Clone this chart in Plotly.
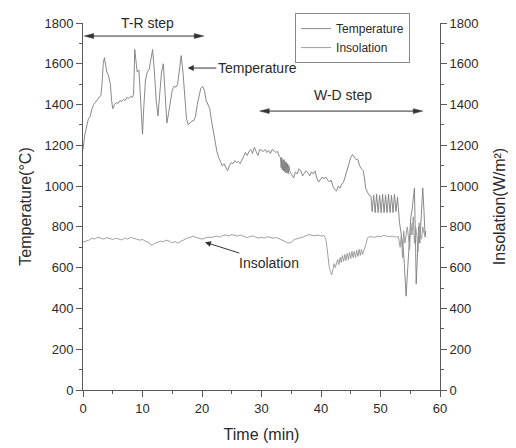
import plotly.graph_objects as go

# ---- data ----
time_temp = [0.0, 0.3, 0.6, 0.9, 1.2, 1.5, 1.8, 2.1, 2.4, 2.7, 3.0, 3.2, 3.4, 3.6, 3.8, 4.0, 4.3, 4.6, 4.8, 5.0,
             5.3, 5.6, 5.9, 6.2, 6.5, 6.8, 7.1, 7.4, 7.7, 8.0, 8.3, 8.5, 8.7, 8.9, 9.1, 9.4, 9.6, 9.8, 10.0, 10.2,
             10.5, 10.8, 11.1, 11.4, 11.7, 12.0, 12.3, 12.6, 12.9, 13.2, 13.5, 13.8, 14.1, 14.4, 14.7, 15.0, 15.3, 15.6, 15.9, 16.2,
             16.5, 16.8, 17.1, 17.4, 17.7, 18.0, 18.3, 18.6, 18.9, 19.2, 19.5, 19.8, 20.1, 20.4, 20.7, 21.0, 21.3, 21.6, 21.9, 22.2,
             22.5, 22.8, 23.1, 23.4, 23.7, 24.0, 24.3, 24.6, 24.9, 25.2, 25.5, 25.8, 26.1, 26.4, 26.7, 27.0, 27.3, 27.6, 27.9, 28.2,
             28.5, 28.8, 29.1, 29.4, 29.7, 30.0, 30.3, 30.6, 30.9, 31.2, 31.5, 31.8, 32.1, 32.4, 32.7, 33.0,
             33.2, 33.3, 33.4, 33.5, 33.6, 33.7, 33.8, 33.9, 34.0, 34.1, 34.2, 34.3, 34.4, 34.5, 34.6, 34.8,
             35.1, 35.4, 35.7, 36.0, 36.3, 36.6, 36.9, 37.2, 37.5, 37.8, 38.1, 38.4, 38.7, 39.0, 39.3, 39.6, 39.9, 40.2,
             40.5, 40.8, 41.1, 41.4, 41.7, 42.0, 42.3, 42.6, 42.9, 43.2, 43.5, 43.8, 44.1, 44.4, 44.7, 45.0, 45.3, 45.6,
             45.9, 46.2, 46.5, 46.8, 47.1, 47.3, 47.5, 47.8, 48.1, 48.4,
             48.6, 48.85, 49.1, 49.35, 49.6, 49.85, 50.1, 50.35, 50.6, 50.85, 51.1, 51.35, 51.6, 51.85, 52.1, 52.35, 52.6, 52.85, 53.0,
             53.2, 53.5, 53.8, 54.0, 54.2, 54.3, 54.5, 54.7, 54.9, 55.1, 55.3, 55.5, 55.7, 55.9, 56.0, 56.2, 56.4, 56.6, 56.8,
             57.0, 57.1, 57.3, 57.5, 57.6]
temperature = [1180, 1250, 1290, 1330, 1340, 1380, 1400, 1410, 1420, 1435, 1445, 1500, 1600, 1630, 1590, 1560, 1540, 1500, 1420, 1380,
               1400, 1410, 1405, 1420, 1415, 1425, 1420, 1435, 1430, 1440, 1435, 1450, 1670, 1600, 1560, 1570, 1450, 1330, 1255, 1380,
               1520, 1560, 1570, 1620, 1670, 1560, 1420, 1345, 1450, 1560, 1600, 1450, 1310, 1360, 1420, 1470, 1490, 1485, 1500, 1560,
               1640, 1560, 1420, 1330, 1300, 1310, 1320, 1320, 1340, 1400, 1450, 1480, 1490, 1470, 1420, 1400, 1380, 1320, 1270, 1200,
               1170, 1140, 1120, 1100, 1110, 1090, 1075, 1100, 1115, 1110, 1125, 1115, 1120, 1110, 1125, 1145, 1165, 1150, 1170, 1180,
               1160, 1190, 1170, 1150, 1180, 1175, 1170, 1180, 1165, 1175, 1160, 1180, 1170, 1165, 1170, 1145,
               1140, 1090, 1140, 1080, 1130, 1075, 1130, 1070, 1120, 1065, 1115, 1065, 1110, 1060, 1100, 1070,
               1055, 1040, 1070, 1060, 1085, 1075, 1050, 1060, 1075, 1065, 1050, 1070, 1060, 1075, 1040, 1020, 1030, 1045,
               1035, 1045, 1030, 1020, 1030, 1000, 985, 975, 1000, 990, 1010, 1020, 1050, 1080, 1110, 1140, 1155, 1145,
               1130, 1130, 1100, 1085, 1075, 1040, 990, 970, 955, 950,
               875, 955, 870, 960, 870, 955, 870, 960, 870, 955, 870, 960, 870, 955, 870, 960, 875, 945, 870,
               820, 760, 700, 620, 520, 460, 560, 660, 800, 850, 880, 930, 990, 700, 520, 650, 800, 720, 850,
               950, 990, 880, 750, 780]

time_ins = [0.0, 0.5, 1.0, 1.5, 2.0, 2.5, 3.0, 3.5, 4.0, 4.5, 5.0, 5.5, 6.0, 6.5, 7.0, 7.5, 8.0, 8.5, 9.0, 9.5,
            10.0, 10.5, 11.0, 11.3, 11.6, 12.0, 12.5, 13.0, 13.5, 14.0, 14.5, 15.0, 15.5, 16.0, 16.5, 17.0, 17.5, 18.0, 18.5, 19.0,
            19.5, 20.0, 20.5, 21.0, 21.5, 22.0, 22.5, 23.0, 23.5, 24.0, 24.5, 25.0, 25.5, 26.0, 26.5, 27.0, 27.5, 28.0, 28.5, 29.0,
            29.5, 30.0, 30.5, 31.0, 31.5, 32.0, 32.5, 33.0, 33.5, 34.0, 34.5, 35.0, 35.5, 36.0, 36.5, 37.0, 37.5, 38.0, 38.5, 39.0,
            39.5, 40.0, 40.5, 40.8, 41.0, 41.2, 41.4, 41.6, 41.8, 42.0, 42.2, 42.4, 42.6, 42.8, 43.0, 43.2, 43.4, 43.6, 43.8, 44.0,
            44.2, 44.4, 44.6, 44.8, 45.0, 45.2, 45.4, 45.6, 45.8, 46.0, 46.2, 46.4, 46.6, 46.8, 47.0, 47.2, 47.4, 47.6, 47.8, 48.0,
            48.5, 49.0, 49.5, 50.0, 50.5, 51.0, 51.5, 52.0, 52.5, 53.0, 53.3, 53.5, 53.7, 53.9, 54.1, 54.3, 54.5, 54.7, 54.9, 55.1,
            55.3, 55.5, 55.7, 55.9, 56.1, 56.3, 56.5, 56.7, 56.9, 57.1, 57.3, 57.5]
insolation = [725, 730, 735, 745, 740, 750, 745, 740, 748, 742, 738, 745, 742, 736, 745, 740, 748, 742, 740, 735,
              738, 730, 725, 715, 710, 718, 725, 730, 728, 735, 730, 722, 728, 720, 730, 738, 745, 748, 755, 748,
              742, 740, 745, 750, 748, 752, 755, 750, 758, 760, 756, 762, 758, 755, 760, 752, 748, 752, 756, 750,
              745, 750, 745, 752, 748, 745, 748, 742, 735, 728, 720, 725, 738, 742, 745, 750, 758, 762, 758, 756,
              760, 755, 758, 740, 700, 640, 600, 580, 565, 590, 620, 600, 625, 640, 615, 650, 625, 660, 630, 665,
              635, 670, 640, 675, 645, 680, 650, 680, 650, 685, 655, 690, 660, 690, 665, 690, 700, 720, 745, 750,
              752, 748, 755, 752, 758, 755, 752, 755, 750, 752, 700, 760, 650, 780, 720, 760, 800, 750, 690, 820,
              760, 850, 720, 800, 760, 680, 820, 760, 740, 800, 770, 760]

x_ticks = [0, 10, 20, 30, 40, 50, 60]
y_ticks = [0, 200, 400, 600, 800, 1000, 1200, 1400, 1600, 1800]

FONT = "Liberation Sans, Arial, sans-serif"
TXT = "#2a2a2a"
AX = "#5a5a5a"
ARROW = "#333333"

fig = go.Figure()
fig.add_trace(go.Scatter(x=time_temp, y=temperature, mode="lines", name="Temperature",
                         line=dict(color="#7c7c7c", width=0.9)))
fig.add_trace(go.Scatter(x=time_ins, y=insolation, mode="lines", name="Insolation",
                         line=dict(color="#949494", width=0.9), yaxis="y2"))

axis_common = dict(showgrid=False, zeroline=False, showline=True, linecolor=AX, linewidth=1,
                   ticks="outside", ticklen=6, tickcolor=AX, tickwidth=1, automargin=False,
                   tickfont=dict(family=FONT, size=13, color=TXT))

fig.update_layout(
    width=508, height=440, autosize=False,
    margin=dict(l=75, r=76, t=15, b=58, autoexpand=False),
    paper_bgcolor="white", plot_bgcolor="white",
    font=dict(family=FONT, color=TXT),
    xaxis=dict(range=[0, 60], tickvals=x_ticks,
               minor=dict(dtick=5, ticks="outside", ticklen=3, tickcolor=AX),
               title=dict(text="Time (min)", font=dict(family=FONT, size=16, color=TXT), standoff=14),
               **axis_common),
    yaxis=dict(range=[0, 1800], tickvals=y_ticks,
               minor=dict(dtick=100, ticks="outside", ticklen=3, tickcolor=AX),
               title=dict(text="Temperature(°C)", font=dict(family=FONT, size=16, color=TXT), standoff=8),
               **axis_common),
    yaxis2=dict(range=[0, 1800], tickvals=y_ticks, overlaying="y", side="right",
                minor=dict(dtick=100, ticks="outside", ticklen=3, tickcolor=AX),
                title=dict(text="Insolation(W/m²)", font=dict(family=FONT, size=16, color=TXT), standoff=16),
                **axis_common),
    legend=dict(x=0.594, y=1.027, xanchor="left", yanchor="top",
                bgcolor="white", bordercolor="#888888", borderwidth=1,
                font=dict(family=FONT, size=12, color=TXT), tracegroupgap=0,
                itemwidth=30),
    showlegend=True,
)

ann_font = dict(family=FONT, size=14, color=TXT)


def double_arrow(x0, x1, y, head_dx=1.6, head_dy=12):
    """Horizontal double-headed arrow drawn as layout shapes (annotation decoration)."""
    fig.add_shape(type="line", x0=x0 + head_dx * 0.5, x1=x1 - head_dx * 0.5, y0=y, y1=y,
                  xref="x", yref="y", line=dict(color=ARROW, width=1))
    fig.add_shape(type="path", xref="x", yref="y", fillcolor=ARROW, line=dict(color=ARROW, width=0.5),
                  path=f"M {x0},{y} L {x0 + head_dx},{y + head_dy} L {x0 + head_dx},{y - head_dy} Z")
    fig.add_shape(type="path", xref="x", yref="y", fillcolor=ARROW, line=dict(color=ARROW, width=0.5),
                  path=f"M {x1},{y} L {x1 - head_dx},{y + head_dy} L {x1 - head_dx},{y - head_dy} Z")


# T-R step
double_arrow(0.2, 20.3, 1736)
fig.add_annotation(x=10.8, y=1800, text="T-R step", showarrow=False, font=ann_font, xref="x", yref="y")
# W-D step
double_arrow(29.7, 57.1, 1368)
fig.add_annotation(x=43.7, y=1447, text="W-D step", showarrow=False, font=ann_font, xref="x", yref="y")

arrow_kw = dict(showarrow=True, arrowcolor=ARROW, arrowwidth=1, arrowhead=2, arrowsize=1.2,
                xref="x", yref="y", axref="x", ayref="y", standoff=0)
# Temperature label with arrow
fig.add_annotation(x=17.6, y=1579, ax=29.3, ay=1579, text="Temperature", font=ann_font, **arrow_kw)
# Insolation label with arrow
fig.add_annotation(x=20.5, y=725, ax=31.3, ay=625, text="Insolation", font=ann_font, **arrow_kw)

fig.write_html("out.html")
